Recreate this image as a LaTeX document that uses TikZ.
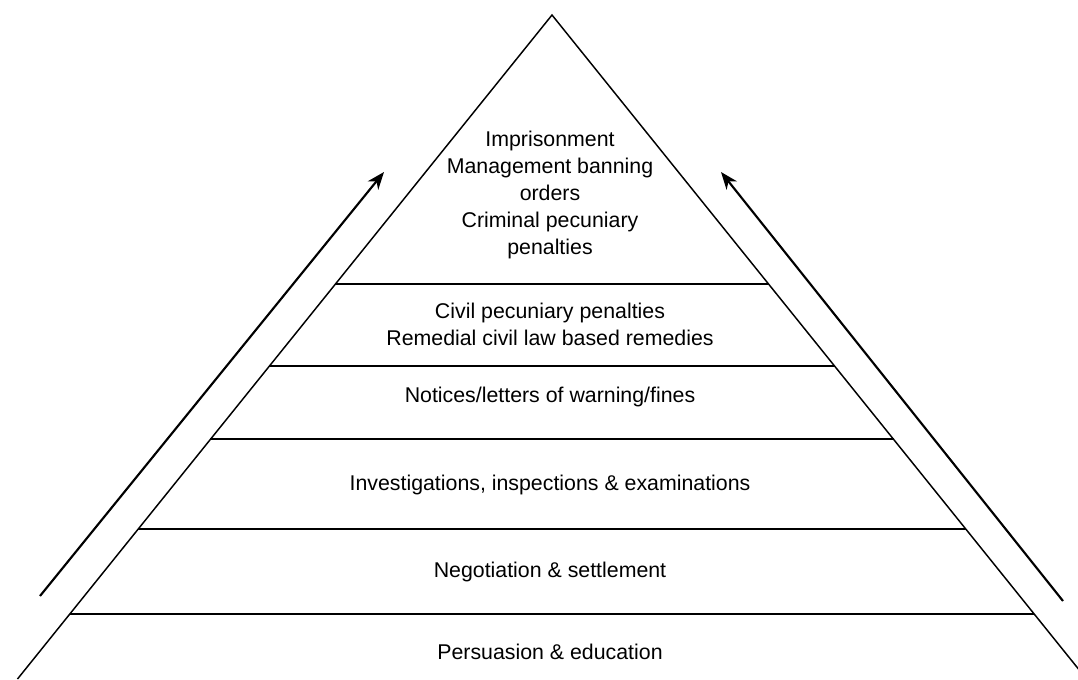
\documentclass[tikz,border=0pt]{standalone}
\usepackage{fontspec}
\setmainfont{Liberation Sans}
\usetikzlibrary{arrows.meta,calc}

\begin{document}
\begin{tikzpicture}[x=0.75pt,y=-0.75pt,>={Stealth[length=13pt,width=10pt,inset=4pt]},
	side/.style={line width=1.1pt},
	layer/.style={line width=1.3pt},
	rise/.style={->,line width=1.6pt},
	tier/.style={align=center,font=\fontsize{16}{20.25}\selectfont}]

\useasboundingbox (0,0) rectangle (1078,679);

\coordinate (top) at (552,15);
\coordinate (bl)  at (17.5,679);
\coordinate (br)  at (1086.5,679);

\draw[side] (bl) -- (top) -- (br);

% layer boundaries, top to bottom
\coordinate (l1) at ($(top)!0.405!(bl)$);	\coordinate (r1) at ($(top)!0.405!(br)$);
\coordinate (l2) at ($(top)!0.529!(bl)$);	\coordinate (r2) at ($(top)!0.529!(br)$);
\coordinate (l3) at ($(top)!0.639!(bl)$);	\coordinate (r3) at ($(top)!0.639!(br)$);
\coordinate (l4) at ($(top)!0.774!(bl)$);	\coordinate (r4) at ($(top)!0.774!(br)$);
\coordinate (l5) at ($(top)!0.902!(bl)$);	\coordinate (r5) at ($(top)!0.902!(br)$);

\draw[layer] (l1) -- (r1);
\draw[layer] (l2) -- (r2);
\draw[layer] (l3) -- (r3);
\draw[layer] (l4) -- (r4);
\draw[layer] (l5) -- (r5);

\node[tier]	(prison)	at (550,194.5)	{Imprisonment\\Management banning\\orders\\Criminal pecuniary\\penalties};
\node[tier]	(civil)		at (550,324)	{Civil pecuniary penalties\\Remedial civil law based remedies};
\node[tier]	(notice)	at (550,397)	{Notices/letters of warning/fines};
\node[tier]	(invest)	at (550,485)	{Investigations, inspections \& examinations};
\node[tier]	(nego)		at (550,572)	{Negotiation \& settlement};
\node[tier]	(persu)		at (550,652)	{Persuasion \& education};

% escalation arrows
\coordinate (la0) at (40,596);		\coordinate (la1) at (384,172);
\coordinate (ra0) at (1063,601);	\coordinate (ra1) at (721,172);

\draw[rise] (la0) -- (la1);
\draw[rise] (ra0) -- (ra1);

\end{tikzpicture}
\end{document}
